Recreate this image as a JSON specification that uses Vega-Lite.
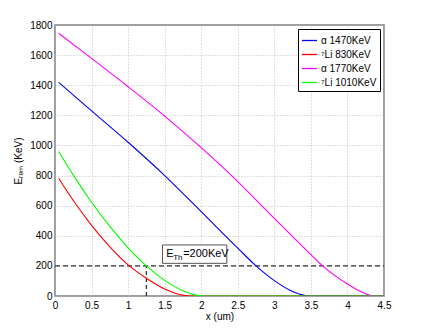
{
  "$schema": "https://vega.github.io/schema/vega-lite/v6.json",
  "width": 329,
  "height": 271,
  "autosize": {"type": "none"},
  "padding": {"left": 55, "top": 25, "right": 41, "bottom": 37},
  "background": "white",
  "config": {
    "font": "Liberation Sans",
    "view": {"stroke": "#7f7f7f", "strokeWidth": 1.5},
    "axis": {
      "domain": false,
      "ticks": false,
      "gridColor": "#b0b0b0",
      "gridDash": [1, 2],
      "gridWidth": 0.8,
      "gridOpacity": 1,
      "labelFontSize": 10,
      "labelColor": "#000",
      "labelOverlap": false,
      "labelSeparation": 0,
      "titleFontSize": 10,
      "titleFontWeight": "normal",
      "titleColor": "#000"
    }
  },
  "datasets": {
    "curves": [
      {"s": "α 1470KeV", "x": 0.05, "y": 1419}, {"s": "α 1470KeV", "x": 0.5, "y": 1230}, {"s": "α 1470KeV", "x": 1.0, "y": 1021}, {"s": "α 1470KeV", "x": 1.5, "y": 800}, {"s": "α 1470KeV", "x": 2.0, "y": 560}, {"s": "α 1470KeV", "x": 2.5, "y": 318}, {"s": "α 1470KeV", "x": 2.75, "y": 200}, {"s": "α 1470KeV", "x": 3.0, "y": 102}, {"s": "α 1470KeV", "x": 3.2, "y": 42}, {"s": "α 1470KeV", "x": 3.35, "y": 12}, {"s": "α 1470KeV", "x": 3.47, "y": 0}, {"s": "α 1470KeV", "x": 4.5, "y": 0},
      {"s": "⁷Li 830KeV", "x": 0.05, "y": 782}, {"s": "⁷Li 830KeV", "x": 0.25, "y": 634}, {"s": "⁷Li 830KeV", "x": 0.5, "y": 469}, {"s": "⁷Li 830KeV", "x": 0.75, "y": 327}, {"s": "⁷Li 830KeV", "x": 1.0, "y": 207}, {"s": "⁷Li 830KeV", "x": 1.25, "y": 118}, {"s": "⁷Li 830KeV", "x": 1.5, "y": 46}, {"s": "⁷Li 830KeV", "x": 1.7, "y": 10}, {"s": "⁷Li 830KeV", "x": 1.86, "y": 0}, {"s": "⁷Li 830KeV", "x": 4.5, "y": 0},
      {"s": "α 1770KeV", "x": 0.05, "y": 1745}, {"s": "α 1770KeV", "x": 0.5, "y": 1578}, {"s": "α 1770KeV", "x": 1.0, "y": 1390}, {"s": "α 1770KeV", "x": 1.5, "y": 1195}, {"s": "α 1770KeV", "x": 2.0, "y": 985}, {"s": "α 1770KeV", "x": 2.5, "y": 760}, {"s": "α 1770KeV", "x": 3.0, "y": 515}, {"s": "α 1770KeV", "x": 3.5, "y": 275}, {"s": "α 1770KeV", "x": 3.66, "y": 200}, {"s": "α 1770KeV", "x": 4.0, "y": 80}, {"s": "α 1770KeV", "x": 4.2, "y": 25}, {"s": "α 1770KeV", "x": 4.3, "y": 6}, {"s": "α 1770KeV", "x": 4.38, "y": 0}, {"s": "α 1770KeV", "x": 4.5, "y": 0},
      {"s": "⁷Li 1010KeV", "x": 0.05, "y": 960}, {"s": "⁷Li 1010KeV", "x": 0.25, "y": 803}, {"s": "⁷Li 1010KeV", "x": 0.5, "y": 623}, {"s": "⁷Li 1010KeV", "x": 0.75, "y": 462}, {"s": "⁷Li 1010KeV", "x": 1.0, "y": 320}, {"s": "⁷Li 1010KeV", "x": 1.25, "y": 200}, {"s": "⁷Li 1010KeV", "x": 1.5, "y": 104}, {"s": "⁷Li 1010KeV", "x": 1.75, "y": 35}, {"s": "⁷Li 1010KeV", "x": 1.9, "y": 9}, {"s": "⁷Li 1010KeV", "x": 2.02, "y": 0}, {"s": "⁷Li 1010KeV", "x": 4.5, "y": 0}
    ],
    "hline": [{"x": 0, "y": 200}, {"x": 4.5, "y": 200}],
    "vline": [{"x": 1.25, "y": 0}, {"x": 1.25, "y": 200}],
    "box": [{"x": 1.47, "x2": 2.35, "y": 217, "y2": 339}],
    "lbl": [{"x": 1.52, "y": 280, "t": "E", "k": "main"}, {"x": 1.52, "y": 280, "t": "Th", "k": "sub"}, {"x": 1.52, "y": 280, "t": "=200KeV", "k": "rest"}]
  },
  "encoding": {
    "x": {"field": "x", "type": "quantitative", "scale": {"domain": [0, 4.5], "nice": false}, "axis": {"values": [0, 0.5, 1, 1.5, 2, 2.5, 3, 3.5, 4, 4.5], "format": "~g", "title": "x (um)", "grid": true, "labelPadding": 4, "titlePadding": 1, "labelFlush": false, "labelOverlap": false}},
    "y": {"field": "y", "type": "quantitative", "scale": {"domain": [0, 1800], "nice": false}, "axis": {"values": [0, 200, 400, 600, 800, 1000, 1200, 1400, 1600, 1800], "format": "d", "title": "Eᵣₑₘ (KeV)", "grid": true, "labelPadding": 3, "titlePadding": 6, "labelFlush": false, "labelOverlap": false}}
  },
  "layer": [
    {
      "data": {"name": "hline"},
      "mark": {"type": "line", "color": "#333333", "strokeDash": [5, 3], "strokeWidth": 1.3}
    },
    {
      "data": {"name": "vline"},
      "mark": {"type": "line", "color": "#333333", "strokeDash": [4, 3], "strokeWidth": 1.3}
    },
    {
      "data": {"name": "curves"},
      "mark": {"type": "line", "strokeWidth": 1.1, "clip": true, "interpolate": "monotone"},
      "encoding": {
        "color": {
          "field": "s", "type": "nominal",
          "scale": {"domain": ["α 1470KeV", "⁷Li 830KeV", "α 1770KeV", "⁷Li 1010KeV"], "range": ["#0000ff", "#ff0000", "#ff00ff", "#00ff00"]},
          "legend": {"title": null, "orient": "top-right", "offset": 4, "symbolType": "stroke", "symbolSize": 225, "symbolStrokeWidth": 1.3, "labelFontSize": 10, "labelColor": "#000", "strokeColor": "#000", "fillColor": "white", "padding": 3, "rowPadding": -1, "labelOffset": 3, "labelOverlap": false}
        }
      }
    },
    {
      "data": {"name": "box"},
      "mark": {"type": "rect", "fill": "white", "stroke": "#555555", "strokeWidth": 1},
      "encoding": {"x2": {"field": "x2"}, "y2": {"field": "y2"}}
    },
    {
      "data": {"name": "lbl"},
      "transform": [{"filter": "datum.k == 'main'"}],
      "mark": {"type": "text", "align": "left", "baseline": "middle", "fontSize": 11, "color": "#000"},
      "encoding": {"text": {"field": "t"}}
    },
    {
      "data": {"name": "lbl"},
      "transform": [{"filter": "datum.k == 'sub'"}],
      "mark": {"type": "text", "align": "left", "baseline": "middle", "fontSize": 8, "dx": 7, "dy": 4, "color": "#000"},
      "encoding": {"text": {"field": "t"}}
    },
    {
      "data": {"name": "lbl"},
      "transform": [{"filter": "datum.k == 'rest'"}],
      "mark": {"type": "text", "align": "left", "baseline": "middle", "fontSize": 11, "dx": 17, "color": "#000"},
      "encoding": {"text": {"field": "t"}}
    }
  ]
}
